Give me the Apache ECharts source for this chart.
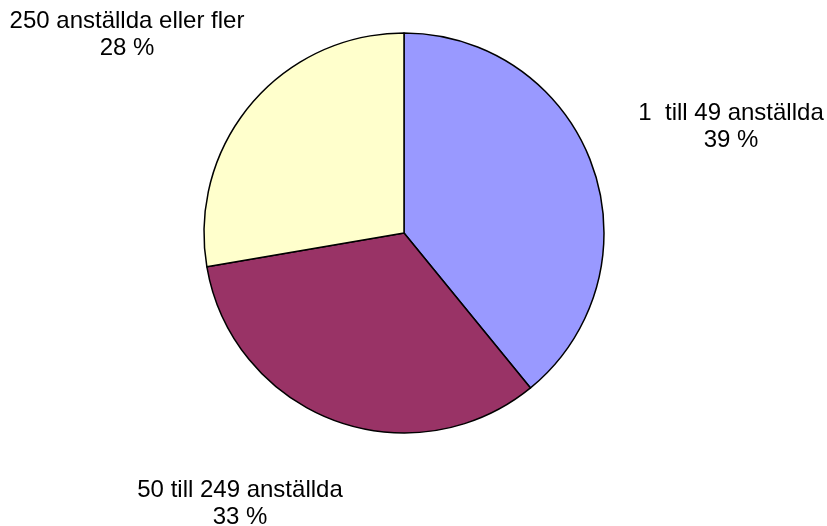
<!DOCTYPE html>
<html>
<head>
<meta charset="utf-8">
<script src="https://cdn.jsdelivr.net/npm/echarts@6/dist/echarts.min.js"></script>
<style>html,body{margin:0;padding:0;background:#fff;}#c{width:827px;height:526px;}</style>
</head>
<body>
<div id="c"></div>
<script>
const categories = ['1  till 49 anställda', '50 till 249 anställda', '250 anställda eller fler'];
const values = [39.1, 33.2, 27.7];
const colors = ['#9999FF', '#993366', '#FFFFCC'];

const labelPos = [[731, 127], [240, 504], [127, 35]];

const chart = echarts.init(document.getElementById('c'));
chart.setOption({
  animation: false,
  backgroundColor: '#ffffff',
  series: [{
    type: 'pie',
    center: [404, 233],
    radius: 200,
    startAngle: 90,
    clockwise: true,
    data: categories.map((n, i) => ({ name: n, value: values[i], itemStyle: { color: colors[i] } })),
    itemStyle: { borderColor: '#000', borderWidth: 1.5 },
    label: {
      show: true,
      position: 'outside',
      alignTo: 'none',
      overflow: 'none',
      width: 400,
      formatter: p => p.name + '\n' + Math.round(p.percent) + ' %',
      fontFamily: 'Liberation Sans, Arial, sans-serif',
      fontSize: 24,
      lineHeight: 27,
      color: '#000',
      align: 'center'
    },
    labelLine: { show: false },
    labelLayout: function (params) {
      const p = labelPos[params.dataIndex];
      return { x: p[0], y: p[1], align: 'center', verticalAlign: 'middle' };
    },
    emphasis: { disabled: true }
  }]
});
</script>
</body>
</html>
